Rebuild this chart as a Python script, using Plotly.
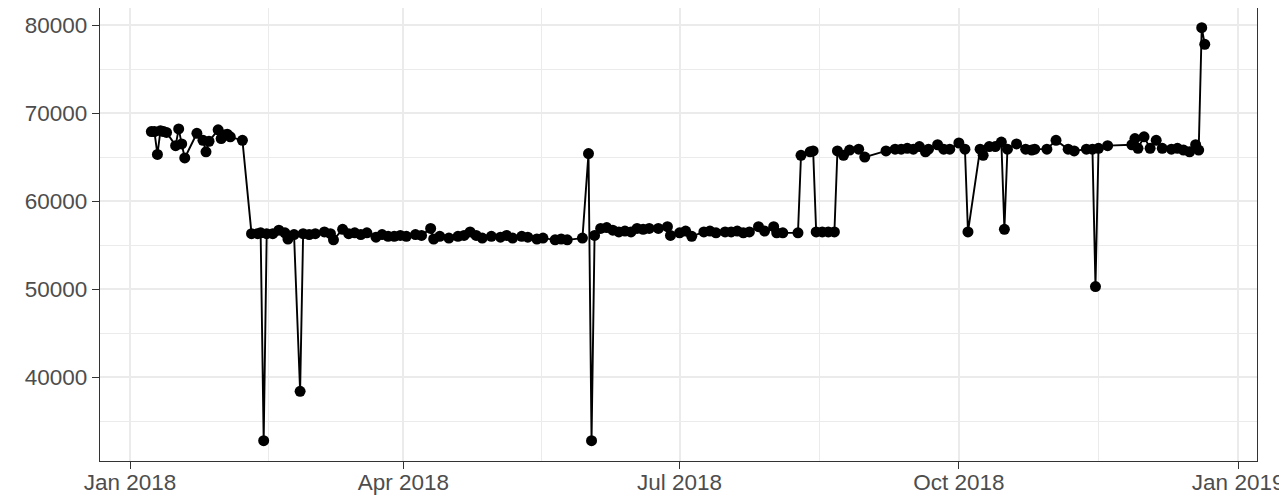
import plotly.graph_objects as go

# daily values
dates = [
    "2018-01-08", "2018-01-09", "2018-01-10", "2018-01-11", "2018-01-12", "2018-01-13",
    "2018-01-16", "2018-01-17", "2018-01-18", "2018-01-19", "2018-01-23", "2018-01-25",
    "2018-01-26", "2018-01-27", "2018-01-30", "2018-01-31", "2018-02-01", "2018-02-02",
    "2018-02-03", "2018-02-07",
    "2018-02-10", "2018-02-12", "2018-02-13", "2018-02-14", "2018-02-15", "2018-02-17",
    "2018-02-19", "2018-02-21", "2018-02-22", "2018-02-24", "2018-02-26", "2018-02-27",
    "2018-03-01", "2018-03-03", "2018-03-06", "2018-03-08", "2018-03-09", "2018-03-12",
    "2018-03-14", "2018-03-16", "2018-03-18", "2018-03-20", "2018-03-23", "2018-03-25",
    "2018-03-27", "2018-03-29", "2018-03-31", "2018-04-02", "2018-04-05", "2018-04-07",
    "2018-04-10", "2018-04-11", "2018-04-13", "2018-04-16", "2018-04-19", "2018-04-21",
    "2018-04-23", "2018-04-25", "2018-04-27", "2018-04-30", "2018-05-03", "2018-05-05",
    "2018-05-07", "2018-05-10", "2018-05-12", "2018-05-15", "2018-05-17", "2018-05-21",
    "2018-05-23", "2018-05-25", "2018-05-30", "2018-06-01", "2018-06-02", "2018-06-03",
    "2018-06-05", "2018-06-07", "2018-06-09", "2018-06-11", "2018-06-13", "2018-06-15",
    "2018-06-17", "2018-06-19", "2018-06-21", "2018-06-24", "2018-06-27", "2018-06-28",
    "2018-07-01", "2018-07-03", "2018-07-05", "2018-07-09", "2018-07-11", "2018-07-13",
    "2018-07-16", "2018-07-18", "2018-07-20", "2018-07-22", "2018-07-24", "2018-07-27",
    "2018-07-29", "2018-08-01", "2018-08-02", "2018-08-04", "2018-08-09",
    "2018-08-10", "2018-08-13", "2018-08-14", "2018-08-15", "2018-08-17", "2018-08-19",
    "2018-08-21", "2018-08-22", "2018-08-24", "2018-08-26", "2018-08-29", "2018-08-31",
    "2018-09-07", "2018-09-10", "2018-09-12", "2018-09-14", "2018-09-16", "2018-09-18",
    "2018-09-20", "2018-09-21", "2018-09-24", "2018-09-26", "2018-09-28", "2018-10-01",
    "2018-10-03", "2018-10-04", "2018-10-08", "2018-10-09", "2018-10-11", "2018-10-13",
    "2018-10-15", "2018-10-16", "2018-10-17", "2018-10-20", "2018-10-23", "2018-10-25",
    "2018-10-26", "2018-10-30", "2018-11-02", "2018-11-06", "2018-11-08", "2018-11-12",
    "2018-11-14", "2018-11-15", "2018-11-16", "2018-11-19", "2018-11-27", "2018-11-28",
    "2018-11-29", "2018-12-01", "2018-12-03", "2018-12-05", "2018-12-07", "2018-12-10",
    "2018-12-12", "2018-12-14", "2018-12-16", "2018-12-18", "2018-12-19", "2018-12-20",
    "2018-12-21",
]
values = [
    67900, 67900, 65300, 68000, 67900, 67800,
    66300, 68200, 66500, 64900, 67700, 66900,
    65600, 66800, 68100, 67100, 67500, 67600,
    67300, 66900,
    56300, 56300, 56400, 32800, 56300, 56300,
    56700, 56400, 55700, 56200, 38400, 56300,
    56200, 56300, 56500, 56300, 55600, 56800,
    56300, 56400, 56200, 56400, 55900, 56200,
    56000, 56000, 56100, 56000, 56200, 56100,
    56900, 55700, 56000, 55800, 56000, 56100,
    56500, 56100, 55800, 56000, 55900, 56100,
    55800, 56000, 55900, 55700, 55800, 55600,
    55700, 55600, 55800, 65400, 32800, 56100,
    56900, 57000, 56700, 56500, 56600, 56500,
    56900, 56800, 56900, 56900, 57100, 56100,
    56400, 56600, 56000, 56500, 56600, 56400,
    56500, 56500, 56600, 56400, 56500, 57100,
    56600, 57100, 56400, 56400, 56400,
    65200, 65600, 65700, 56500, 56500, 56500,
    56500, 65700, 65200, 65800, 65900, 65000,
    65700, 65900, 65900, 66000, 65900, 66200,
    65600, 65900, 66400, 65900, 65900, 66600,
    65900, 56500, 65900, 65200, 66200, 66200,
    66700, 56800, 65900, 66500, 65900, 65800,
    65900, 65900, 66900, 65900, 65700, 65900,
    65900, 50300, 66000, 66300, 66400, 67100,
    66000, 67300, 66000, 66900, 66000, 65900,
    66000, 65800, 65600, 66400, 65800, 79700,
    77800,
]

x_ticks = ["2018-01-01", "2018-04-01", "2018-07-01", "2018-10-01", "2019-01-01"]
x_labels = ["Jan 2018", "Apr 2018", "Jul 2018", "Oct 2018", "Jan 2019"]
x_minor = ["2018-02-15 12:00", "2018-05-16 12:00", "2018-08-16", "2018-11-16"]
y_ticks = [40000, 50000, 60000, 70000, 80000]
y_minor = [35000, 45000, 55000, 65000, 75000]

INK = "#000000"
GRID = "#EBEBEB"
BORDER = "#333333"
LABEL = "#4D4D4D"

fig = go.Figure()
fig.add_trace(
    go.Scatter(
        x=dates,
        y=values,
        mode="lines+markers",
        line=dict(color=INK, width=1.9),
        marker=dict(color=INK, size=11),
        showlegend=False,
    )
)

axis_common = dict(
    showline=True,
    linecolor=BORDER,
    linewidth=1.4,
    mirror=True,
    ticks="outside",
    ticklen=7,
    tickwidth=1.4,
    tickcolor=BORDER,
    showgrid=True,
    gridcolor=GRID,
    gridwidth=1.8,
    zeroline=False,
    tickfont=dict(size=22.5, color=LABEL),
)

fig.update_xaxes(
    type="date",
    range=["2017-12-22 02:00", "2019-01-07 05:00"],
    tickmode="array",
    tickvals=x_ticks,
    ticktext=x_labels,
    ticklabelstandoff=-6,
    minor=dict(tickmode="array", tickvals=x_minor, showgrid=True, gridcolor=GRID, gridwidth=0.9, ticks=""),
    **axis_common,
)
fig.update_yaxes(
    range=[30490, 81930],
    tickmode="array",
    tickvals=y_ticks,
    ticktext=[str(v) for v in y_ticks],
    minor=dict(tickmode="array", tickvals=y_minor, showgrid=True, gridcolor=GRID, gridwidth=0.9, ticks=""),
    **axis_common,
)

# page body adds 8px offset; margins compensate so the panel lands where the reference has it
fig.update_layout(
    width=1287,
    height=500,
    paper_bgcolor="white",
    plot_bgcolor="white",
    font=dict(family="Liberation Sans, Arial, sans-serif", color=LABEL),
    margin=dict(l=92, r=38, t=0, b=47, autoexpand=False),
)

fig.write_html("out.html")
